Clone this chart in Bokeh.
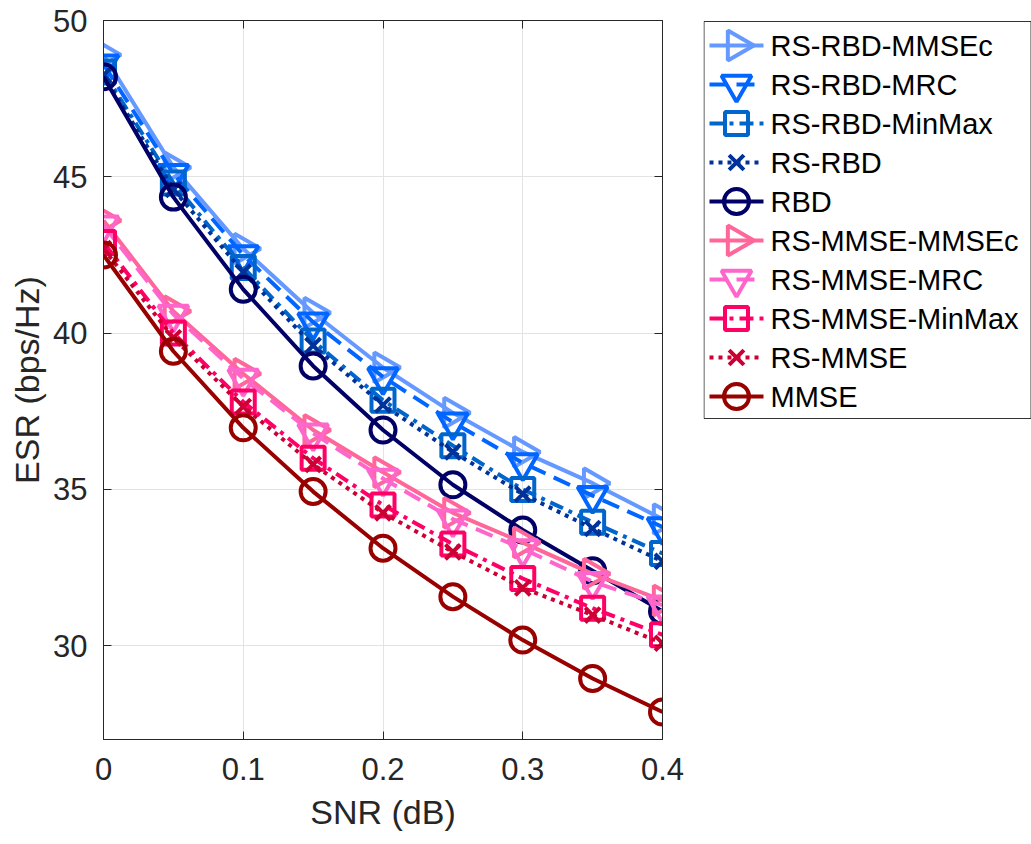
import numpy as np
from bokeh.plotting import figure
from bokeh.layouts import row
from bokeh.models import LinearAxis, FixedTicker, Range1d
from bokeh.core.properties import value
from bokeh.embed import file_html
from bokeh.resources import INLINE

snr = [0, 0.05, 0.1, 0.15, 0.2, 0.25, 0.3, 0.35, 0.4]

rs_rbd_mmsec = [48.9, 45.3, 42.7, 40.65, 38.9, 37.45, 36.2, 35.2, 34.05]
rs_rbd_mrc = [48.6, 45.1, 42.5, 40.35, 38.6, 37.15, 35.85, 34.8, 33.8]
rs_rbd_minmax = [48.35, 44.8, 42.1, 39.75, 37.85, 36.4, 35.0, 33.95, 32.95]
rs_rbd = [48.25, 44.6, 41.95, 39.6, 37.7, 36.2, 34.85, 33.75, 32.7]
rbd = [48.2, 44.35, 41.4, 38.95, 36.9, 35.15, 33.7, 32.4, 31.1]
rs_mmse_mmsec = [43.6, 40.7, 38.7, 36.9, 35.55, 34.25, 33.3, 32.3, 31.45]
rs_mmse_mrc = [43.45, 40.6, 38.55, 36.8, 35.35, 34.05, 33.1, 32.05, 31.3]
rs_mmse_minmax = [42.9, 40.0, 37.8, 36.0, 34.5, 33.25, 32.15, 31.2, 30.35]
rs_mmse = [42.7, 39.85, 37.65, 35.8, 34.25, 33.0, 31.85, 30.98, 30.08]
mmse = [42.5, 39.42, 36.97, 34.93, 33.12, 31.57, 30.18, 28.95, 27.88]

labels = ["RS-RBD-MMSEc", "RS-RBD-MRC", "RS-RBD-MinMax", "RS-RBD", "RBD",
          "RS-MMSE-MMSEc", "RS-MMSE-MRC", "RS-MMSE-MinMax", "RS-MMSE", "MMSE"]
x_ticks = [0, 0.1, 0.2, 0.3, 0.4]
y_ticks = [30, 35, 40, 45, 50]

series = [rs_rbd_mmsec, rs_rbd_mrc, rs_rbd_minmax, rs_rbd, rbd,
          rs_mmse_mmsec, rs_mmse_mrc, rs_mmse_minmax, rs_mmse, mmse]
colors = ["#6699FF", "#0066FF", "#0066CC", "#003399", "#000066",
          "#FF6699", "#FF66CC", "#FF0066", "#CC0033", "#990000"]
SOLID, DASH, DASHDOT, DOT = "solid", "18 9", "14 6 4 6", "4 5"
dashes = [SOLID, DASH, DASHDOT, DOT, SOLID, SOLID, DASH, DASHDOT, DOT, SOLID]
markers = ["triangle", "inverted_triangle", "square", "x", "circle",
           "triangle", "inverted_triangle", "square", "x", "circle"]
angles = [-np.pi / 2, 0, 0, 0, 0, -np.pi / 2, 0, 0, 0, 0]
sizes = [30, 30, 23, 21, 25, 30, 30, 23, 21, 25]

FONT = "Liberation Sans"
TXT = "#262626"
TOP, BOTTOM = 20, 105

# ---------------- main plot ----------------
p = figure(width=703, height=844, output_backend="svg", toolbar_location=None,
           x_range=Range1d(0, 0.4), y_range=Range1d(27, 50),
           min_border_left=103, min_border_right=41, min_border_top=TOP,
           min_border_bottom=BOTTOM)
p.outline_line_color = TXT
p.outline_line_width = 1
p.background_fill_color = "white"

for ax in (p.xaxis[0], p.yaxis[0]):
    ax.axis_line_color = TXT
    ax.major_tick_line_color = TXT
    ax.major_tick_in = 8
    ax.major_tick_out = 0
    ax.minor_tick_line_color = None
    ax.major_label_text_font = FONT
    ax.major_label_text_font_size = "31px"
    ax.major_label_text_color = TXT
    ax.axis_label_text_font = FONT
    ax.axis_label_text_font_size = "34px"
    ax.axis_label_text_font_style = "normal"
    ax.axis_label_text_color = TXT

p.xaxis.ticker = FixedTicker(ticks=x_ticks)
p.yaxis.ticker = FixedTicker(ticks=y_ticks)
p.xaxis.major_label_overrides = {0: "0", 0.1: "0.1", 0.2: "0.2", 0.3: "0.3", 0.4: "0.4"}
p.xaxis.axis_label = "SNR (dB)"
p.yaxis.axis_label = "ESR (bps/Hz)"
p.xaxis.major_label_standoff = 18
p.yaxis.major_label_standoff = 16
p.xaxis.axis_label_standoff = 10
p.yaxis.axis_label_standoff = 4

for loc, ticks in (("above", x_ticks), ("right", y_ticks)):
    ax = LinearAxis(ticker=FixedTicker(ticks=ticks))
    ax.axis_line_color = TXT
    ax.major_tick_line_color = TXT
    ax.major_tick_in = 8
    ax.major_tick_out = 0
    ax.minor_tick_line_color = None
    ax.major_label_overrides = {t: "" for t in ticks}
    ax.major_label_text_font_size = "1px"
    ax.major_label_standoff = 0
    p.add_layout(ax, loc)

p.xgrid.ticker = FixedTicker(ticks=x_ticks)
p.ygrid.ticker = FixedTicker(ticks=y_ticks)
p.grid.grid_line_color = "#e3e3e3"
p.grid.grid_line_width = 1

for ys, c, d, m, a, s in zip(series, colors, dashes, markers, angles, sizes):
    p.line(snr, ys, line_color=c, line_width=4, line_dash=d)
    p.scatter(snr, ys, marker=m, size=s, angle=a, line_color=c, line_width=4,
              fill_color=None)

# ---------------- legend panel (same frame height as the plot) ----------------
Q_W = 328
FRAME_H = 844 - TOP - BOTTOM
q = figure(width=Q_W, height=844, output_backend="svg", toolbar_location=None,
           x_axis_type=None, y_axis_type=None,
           x_range=Range1d(0, Q_W), y_range=Range1d(FRAME_H, 0),
           min_border_left=0, min_border_right=0, min_border_top=TOP,
           min_border_bottom=BOTTOM)
q.outline_line_color = None
q.background_fill_color = "white"
q.border_fill_color = "white"

BOX_TOP, BOX_BOTTOM = 1, 398
q.quad(left=[0.5], right=[Q_W - 0.5], top=[BOX_TOP], bottom=[BOX_BOTTOM],
       fill_color="white", line_color="#333333", line_width=1)

ROW0, ROW_STEP = BOX_TOP + 24, 39
for i, (lab, c, d, m, a, s) in enumerate(zip(labels, colors, dashes, markers, angles, sizes)):
    cy = ROW0 + ROW_STEP * i
    q.line([6, 60], [cy, cy], line_color=c, line_width=4, line_dash=d)
    q.scatter([33], [cy], marker=m, size=s, angle=a, line_color=c, line_width=4,
              fill_color=None)
    q.text([67], [cy], text=[lab], text_font=value(FONT), text_font_size="29px",
           text_baseline="middle", text_align="left", text_color="black")

layout = row(p, q, spacing=0)
open("out.html", "w").write(file_html(layout, INLINE))
